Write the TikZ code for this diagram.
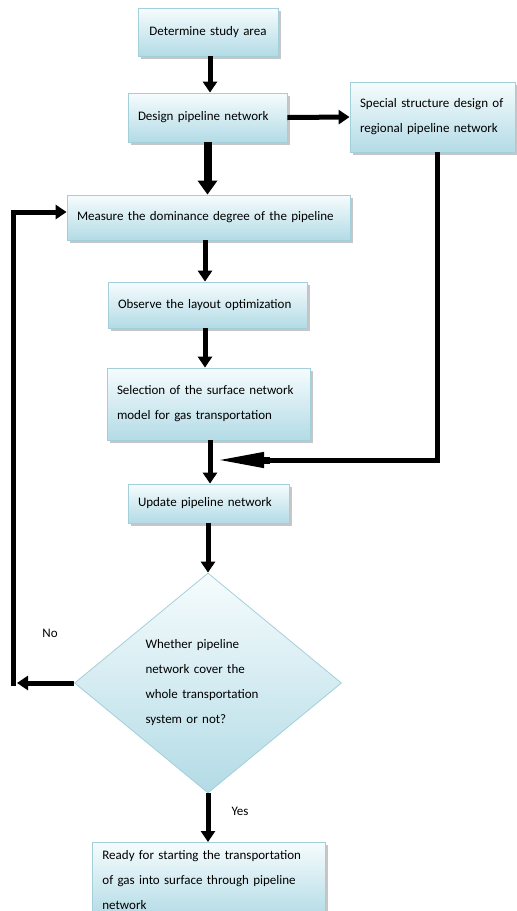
\documentclass[tikz,border=0pt]{standalone}
\usepackage{fontspec}
\setmainfont{Carlito}
\usetikzlibrary{arrows.meta,shapes.geometric,shadows}
\definecolor{boxtop}{HTML}{F6FCFD}
\definecolor{boxbot}{HTML}{B3DBE6}
\definecolor{boxline}{HTML}{A3CFDB}
\tikzset{
  flowbox/.style={draw=boxline, line width=0.8pt, top color=boxtop, bottom color=boxbot,
    drop shadow={shadow xshift=2.5pt, shadow yshift=-3pt, opacity=0.45, fill=gray},
    inner xsep=10pt, inner ysep=0pt, align=left,
    font=\fontsize{13}{25}\selectfont},
  flowdia/.style={draw=boxline, line width=0.8pt, top color=boxtop, bottom color=boxbot,
    diamond, inner sep=0pt, align=left, font=\fontsize{13}{25}\selectfont},
  arr/.style={line width=5pt, -{Triangle[length=11pt,width=14pt]}},
  thickarr/.style={line width=8pt, -{Triangle[length=14pt,width=19pt]}},
  plain/.style={line width=5pt},
  lbl/.style={font=\fontsize{13}{15}\selectfont}
}
\begin{document}
\begin{tikzpicture}[x=1pt,y=-1pt]
\useasboundingbox (0,0) rectangle (517,911);
% boxes
\node[flowbox, text width=120pt, minimum height=48pt, align=center] (det) at (208,32) {Determine study area};
\node[flowbox, text width=139pt, minimum height=49pt] (des) at (207.5,117.5) {Design pipeline network};
\node[flowbox, text width=145pt, minimum height=70pt] (spe) at (432.5,117) {Special structure design of\\regional pipeline network};
\node[flowbox, text width=263pt, minimum height=45pt] (mea) at (208.5,217.5) {Measure the dominance degree of the pipeline};
\node[flowbox, text width=179pt, minimum height=46pt] (obs) at (207.5,305) {Observe the layout optimization};
\node[flowbox, text width=183pt, minimum height=72pt] (sel) at (208.5,404) {Selection of the surface network\\model for gas transportation};
\node[flowbox, text width=141pt, minimum height=39pt] (upd) at (208.5,503.5) {Update pipeline network};
\node[flowdia, minimum width=267pt, minimum height=220pt, text width=125pt] (dia) at (208,683) {Whether pipeline\\network cover the\\whole transportation\\system or not?};
\node[flowbox, text width=213pt, inner ysep=8pt, anchor=north west] (rdy) at (92,842) {Ready for starting the transportation\\of gas into surface through pipeline\\network};
% helper coordinates
\coordinate (join) at (214,460);
\coordinate (lcorner) at (17,683);
\coordinate (lbot) at (13,686);
% connectors
\draw[arr] ([xshift=2pt]det.south) -- ([xshift=2.5pt]des.north);
\draw[thickarr] (des.south) -- ([xshift=-1pt]mea.north);
\draw[arr] (des.east) -- (spe.west);
\draw[arr] ([xshift=-3.5pt]mea.south) -- ([xshift=-2.5pt]obs.north);
\draw[arr] ([xshift=-2.5pt]obs.south) -- ([xshift=-3.5pt]sel.north);
\draw[arr] ([xshift=1.5pt]sel.south) -- ([xshift=1.5pt]upd.north);
\draw[line width=5pt, line join=miter] ([xshift=4.5pt]spe.south) -- (437,460) -- (260,460);
\draw[line width=7pt, -{Triangle[length=50pt,width=14pt]}] (270,460) -- (join);
\draw[arr] ([xshift=-0.5pt]upd.south) -- (dia.north);
\draw[arr] (dia.west) -- (lcorner);
\draw[arr, line join=miter] (lbot) |- ([yshift=5.5pt]mea.west);
\draw[arr] (dia.south) -- (rdy.north -| dia.south);
% labels
\node[lbl] (no) at (50,633) {No};
\node[lbl] (yes) at (240,811) {Yes};
\end{tikzpicture}
\end{document}
